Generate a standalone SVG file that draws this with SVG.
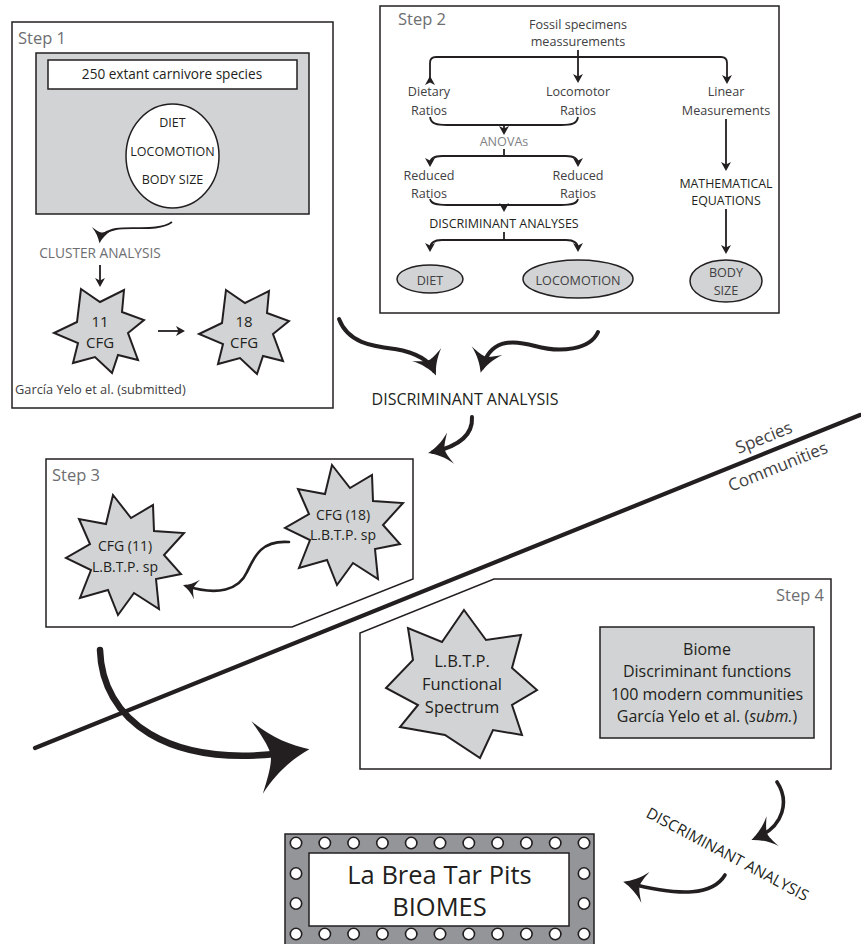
<svg xmlns="http://www.w3.org/2000/svg" width="861" height="944" viewBox="0 0 861 944">
<defs>
<style>
text{font-family:"Open Sans","Noto Sans","DejaVu Sans",sans-serif;fill:#414042}
.c{text-anchor:middle}
.e{text-anchor:end}
.step{font-size:16.5px;fill:#6d6e71}
.gl{fill:#6d6e71}
.dk{fill:#231f20}
.box{fill:#fff;stroke:#231f20;stroke-width:1.5}
.grey{fill:#d1d3d4;stroke:#231f20;stroke-width:1.5}
.star{fill:#d1d3d4;stroke:#231f20;stroke-width:2}
.ln{fill:none;stroke:#231f20;stroke-width:1.8}
.th{fill:none;stroke:#231f20;stroke-linecap:round}
.s2{font-size:12.6px}
.bulb{fill:#fff;stroke:#231f20;stroke-width:1.6}
</style>
<marker id="ahS" viewBox="-8 -6 12 12" markerUnits="userSpaceOnUse" markerWidth="12" markerHeight="12" refX="0" refY="0" orient="auto" overflow="visible"><path d="M3,0 L-6,-5 L-3.5,0 L-6,5 Z" fill="#231f20"/></marker>
<marker id="ahT" viewBox="-20 -17 25 34" markerUnits="userSpaceOnUse" markerWidth="16" markerHeight="21.8" refX="0" refY="0" orient="auto" overflow="visible"><path d="M5,0 C-3,-3 -11,-8 -18,-16 C-14,-8 -12,-3 -12,0 C-12,3 -14,8 -18,16 C-11,8 -3,3 5,0 Z" fill="#231f20"/></marker>
<marker id="ahM" viewBox="-20 -17 25 34" markerUnits="userSpaceOnUse" markerWidth="25" markerHeight="34" refX="0" refY="0" orient="auto" overflow="visible"><path d="M5,0 C-3,-3 -11,-8 -18,-16 C-14,-8 -12,-3 -12,0 C-12,3 -14,8 -18,16 C-11,8 -3,3 5,0 Z" fill="#231f20"/></marker>
<marker id="ahB" viewBox="-20 -17 25 34" markerUnits="userSpaceOnUse" markerWidth="57.5" markerHeight="78.2" refX="0" refY="0" orient="auto" overflow="visible"><path d="M5,0 C-3,-3 -11,-8 -18,-16 C-14,-8 -12,-3 -12,0 C-12,3 -14,8 -18,16 C-11,8 -3,3 5,0 Z" fill="#231f20"/></marker>
</defs>
<rect width="861" height="944" fill="#fff"/>

<!-- divider line -->
<g id="divider">
<line x1="35" y1="748" x2="860" y2="415" stroke="#231f20" stroke-width="4.2" stroke-linecap="round"/>
<text transform="translate(766,443) rotate(-22)" class="c" font-size="17">Species</text>
<text transform="translate(780,472) rotate(-22)" class="c" font-size="17">Communities</text>
</g>

<!-- Step 1 -->
<g id="step1">
<rect x="12" y="22" width="321" height="386" class="box"/>
<text x="18" y="44" class="step">Step 1</text>
</g>
<g id="step1-data">
<rect x="36" y="53" width="273" height="161" class="grey"/>
<rect x="48" y="60" width="249" height="29" class="box"/>
<text x="172" y="79" class="c dk" font-size="13.6">250 extant carnivore species</text>
<ellipse cx="172.5" cy="156" rx="46.5" ry="52" class="box"/>
<text x="172.5" y="127" class="c dk" font-size="12.5">DIET</text>
<text x="172.5" y="156" class="c dk" font-size="12.5">LOCOMOTION</text>
<text x="172.5" y="184" class="c dk" font-size="12.5">BODY SIZE</text>
</g>
<g id="cluster-analysis">
<text x="100" y="258" class="c gl" font-size="13.7">CLUSTER ANALYSIS</text>
</g>
<g id="cfg11">
<polygon class="star" points="81,289 100,302 124,290 122,312 144,320 128,333 138,360 118,355 112,373 95,357 73,363 78,343 54,333 77,322"/>
<text x="100" y="327" class="c dk" font-size="15">11</text>
<text x="100" y="348" class="c dk" font-size="15">CFG</text>
</g>
<g id="cfg18">
<polygon class="star" points="226,290 245,303 269,291 267,313 289,321 273,334 283,361 263,356 257,374 240,358 218,364 223,344 199,334 222,323"/>
<text x="244" y="327" class="c dk" font-size="15">18</text>
<text x="244" y="348" class="c dk" font-size="15">CFG</text>
</g>
<g id="step1-ref">
<text x="15" y="394" font-size="12.8">García Yelo et al. (submitted)</text>
</g>

<!-- Step 2 -->
<g id="step2">
<rect x="380" y="6" width="399" height="307" class="box"/>
<text x="398" y="25" class="step">Step 2</text>
</g>
<g id="fossil">
<text x="578" y="29" class="c s2">Fossil specimens</text>
<text x="578" y="46" class="c s2">meassurements</text>
</g>
<g id="dietary-ratios"><text x="429" y="96" class="c s2">Dietary</text><text x="429" y="115" class="c s2">Ratios</text></g>
<g id="locomotor-ratios"><text x="578" y="96" class="c s2">Locomotor</text><text x="578" y="115" class="c s2">Ratios</text></g>
<g id="linear"><text x="726" y="96" class="c s2">Linear</text><text x="726" y="115" class="c s2">Measurements</text></g>
<g id="anovas"><text x="504" y="146" class="c s2" style="fill:#808285">ANOVAs</text></g>
<g id="reduced-left"><text x="429" y="180" class="c s2">Reduced</text><text x="429" y="198" class="c s2">Ratios</text></g>
<g id="reduced-right"><text x="578" y="180" class="c s2">Reduced</text><text x="578" y="198" class="c s2">Ratios</text></g>
<g id="discriminant-analyses"><text x="504" y="228" class="c dk" font-size="12.5">DISCRIMINANT ANALYSES</text></g>
<g id="math-eq"><text x="726" y="188" class="c dk" font-size="12.4">MATHEMATICAL</text><text x="726" y="205" class="c dk" font-size="12.4">EQUATIONS</text></g>
<g id="diet"><ellipse cx="430" cy="279" rx="33" ry="14" class="grey"/><text x="430" y="285" class="c s2">DIET</text></g>
<g id="locomotion"><ellipse cx="578" cy="279" rx="55" ry="19" class="grey"/><text x="578" y="285" class="c s2">LOCOMOTION</text></g>
<g id="body-size"><ellipse cx="726" cy="281" rx="36" ry="21" class="grey"/><text x="726" y="277" class="c s2">BODY</text><text x="726" y="295" class="c s2">SIZE</text></g>

<!-- middle label -->
<g id="discriminant-analysis">
<text x="465" y="405" class="c dk" font-size="16">DISCRIMINANT ANALYSIS</text>
</g>

<!-- Step 3 -->
<g id="step3">
<polygon points="46,459 413,459 413,579 292,627 46,627" class="box"/>
<text x="52" y="481" class="step">Step 3</text>
</g>
<g id="cfg11-lbtp">
<polygon class="star" points="113,495 131,518 153,505 154,531 184,533 164,555 181,574 156,579 159,609 134,593 118,615 108,590 80,598 91,570 66,558 90,544 79,519 106,524"/>
<text x="125" y="551" class="c dk" font-size="14">CFG (11)</text>
<text x="125" y="572" class="c dk" font-size="14">L.B.T.P. sp</text>
</g>
<g id="cfg18-lbtp">
<polygon class="star" transform="translate(219,-30)" points="113,495 131,518 153,505 154,531 184,533 164,555 181,574 156,579 159,609 134,593 118,615 108,590 80,598 91,570 66,558 90,544 79,519 106,524"/>
<text x="343" y="520" class="c dk" font-size="14">CFG (18)</text>
<text x="343" y="540" class="c dk" font-size="14">L.B.T.P. sp</text>
</g>

<!-- Step 4 -->
<g id="step4">
<polygon points="494,579 831,579 831,769 360,769 360,633" class="box"/>
<text x="824" y="601" class="step e">Step 4</text>
</g>
<g id="functional-spectrum">
<polygon class="star" points="464,610 486,640 521,635 512,668 537,690 512,705 522,735 493,730 480,758 445,735 400,727 418,705 386,688 413,660 408,628 442,642"/>
<text x="462" y="667" class="c dk" font-size="16.5">L.B.T.P.</text>
<text x="462" y="690" class="c dk" font-size="16.5">Functional</text>
<text x="462" y="713" class="c dk" font-size="16.5">Spectrum</text>
</g>
<g id="biome">
<rect x="600" y="627" width="214" height="111" class="grey"/>
<text x="707" y="655" class="c dk" font-size="16">Biome</text>
<text x="707" y="677" class="c dk" font-size="16">Discriminant functions</text>
<text x="707" y="700" class="c dk" font-size="16">100 modern communities</text>
<text x="707" y="722" class="c dk" font-size="16">García Yelo et al. (<tspan font-style="italic">subm.</tspan>)</text>
</g>

<g id="da-rotated">
<text transform="translate(725,859) rotate(28)" class="c dk" font-size="15.5">DISCRIMINANT ANALYSIS</text>
</g>

<!-- Result marquee -->
<g id="biomes-result">
<rect x="285" y="834" width="309" height="113" fill="#939598" stroke="#231f20" stroke-width="1.5"/>
<rect x="309" y="853" width="260" height="73" class="box"/>
<g>
<circle cx="296" cy="843" r="5.7" class="bulb"/><circle cx="324.8" cy="843" r="5.7" class="bulb"/><circle cx="353.6" cy="843" r="5.7" class="bulb"/><circle cx="382.4" cy="843" r="5.7" class="bulb"/><circle cx="411.2" cy="843" r="5.7" class="bulb"/><circle cx="440" cy="843" r="5.7" class="bulb"/><circle cx="468.8" cy="843" r="5.7" class="bulb"/><circle cx="497.6" cy="843" r="5.7" class="bulb"/><circle cx="526.4" cy="843" r="5.7" class="bulb"/><circle cx="555.2" cy="843" r="5.7" class="bulb"/><circle cx="584" cy="843" r="5.7" class="bulb"/>
<circle cx="296" cy="934" r="5.7" class="bulb"/><circle cx="324.8" cy="934" r="5.7" class="bulb"/><circle cx="353.6" cy="934" r="5.7" class="bulb"/><circle cx="382.4" cy="934" r="5.7" class="bulb"/><circle cx="411.2" cy="934" r="5.7" class="bulb"/><circle cx="440" cy="934" r="5.7" class="bulb"/><circle cx="468.8" cy="934" r="5.7" class="bulb"/><circle cx="497.6" cy="934" r="5.7" class="bulb"/><circle cx="526.4" cy="934" r="5.7" class="bulb"/><circle cx="555.2" cy="934" r="5.7" class="bulb"/><circle cx="584" cy="934" r="5.7" class="bulb"/>
<circle cx="296" cy="873.5" r="5.7" class="bulb"/><circle cx="296" cy="903.5" r="5.7" class="bulb"/><circle cx="584" cy="873.5" r="5.7" class="bulb"/><circle cx="584" cy="903.5" r="5.7" class="bulb"/>
</g>
<text x="439.5" y="884" class="c dk" font-size="25.5">La Brea Tar Pits</text>
<text x="439.5" y="916" class="c dk" font-size="25.5">BIOMES</text>
</g>

<!-- connectors -->
<g id="connectors">
<path class="ln" d="M172,222 C158,232 132,226 116,229 C106,231 101,234 100,240" stroke-width="2" marker-end="url(#ahT)"/>
<path class="ln" d="M100,265 L100,284" marker-end="url(#ahS)"/>
<path class="ln" d="M158,331 L182,331" marker-end="url(#ahS)"/>

<path class="ln" d="M578,50 L578,80" marker-end="url(#ahS)"/>
<path class="ln" d="M430,80 L430,63 Q430,57 436,57 L721,57 Q727,57 727,63 L727,81" marker-end="url(#ahS)"/>
<path class="ln" d="M430,80 L430,79" marker-end="url(#ahS)"/>
<path class="ln" d="M430,117 C431,124 437,125 447,125 L561,125 C571,125 577,124 578,117"/>
<path class="ln" d="M504,125 L504,132" marker-end="url(#ahS)"/>
<path class="ln" d="M504,149 L504,156 L442,156 Q430,156 430,164" marker-end="url(#ahS)"/>
<path class="ln" d="M504,156 L566,156 Q578,156 578,164" marker-end="url(#ahS)"/>
<path class="ln" d="M430,199 C431,204 437,205 447,205 L561,205 C571,205 577,204 578,199"/>
<path class="ln" d="M504,205 L504,209" marker-end="url(#ahS)"/>
<path class="ln" d="M504,232 L504,240 L442,240 Q430,240 430,249" marker-end="url(#ahS)"/>
<path class="ln" d="M504,240 L566,240 Q578,240 578,249" marker-end="url(#ahS)"/>
<path class="ln" d="M726,119 L726,168" marker-end="url(#ahS)"/>
<path class="ln" d="M726,209 L726,251" marker-end="url(#ahS)"/>

<path class="th" stroke-width="4" d="M339,319 C348,343 372,346 395,349 C418,353 430,362 434,371" marker-end="url(#ahM)"/>
<path class="th" stroke-width="4" d="M598,332 C590,350 560,353 535,346 C510,339 490,340 482,368" marker-end="url(#ahM)"/>
<path class="th" stroke-width="4" d="M472,417 C473,435 460,446 433,452" marker-end="url(#ahM)"/>
<path class="th" stroke-width="2.6" d="M289,542 C262,540 255,555 247,572 C239,590 218,596 186,586" marker-end="url(#ahT)"/>
<path class="th" stroke-width="6.5" d="M100,650 C102,718 165,772 298,751" marker-end="url(#ahB)"/>
<path class="th" stroke-width="3.6" d="M777,782 C789,800 785,826 756,838" marker-end="url(#ahM)"/>
<path class="th" stroke-width="3.6" d="M725,875 C713,895 682,897 628,883" marker-end="url(#ahM)"/>
</g>
</svg>
